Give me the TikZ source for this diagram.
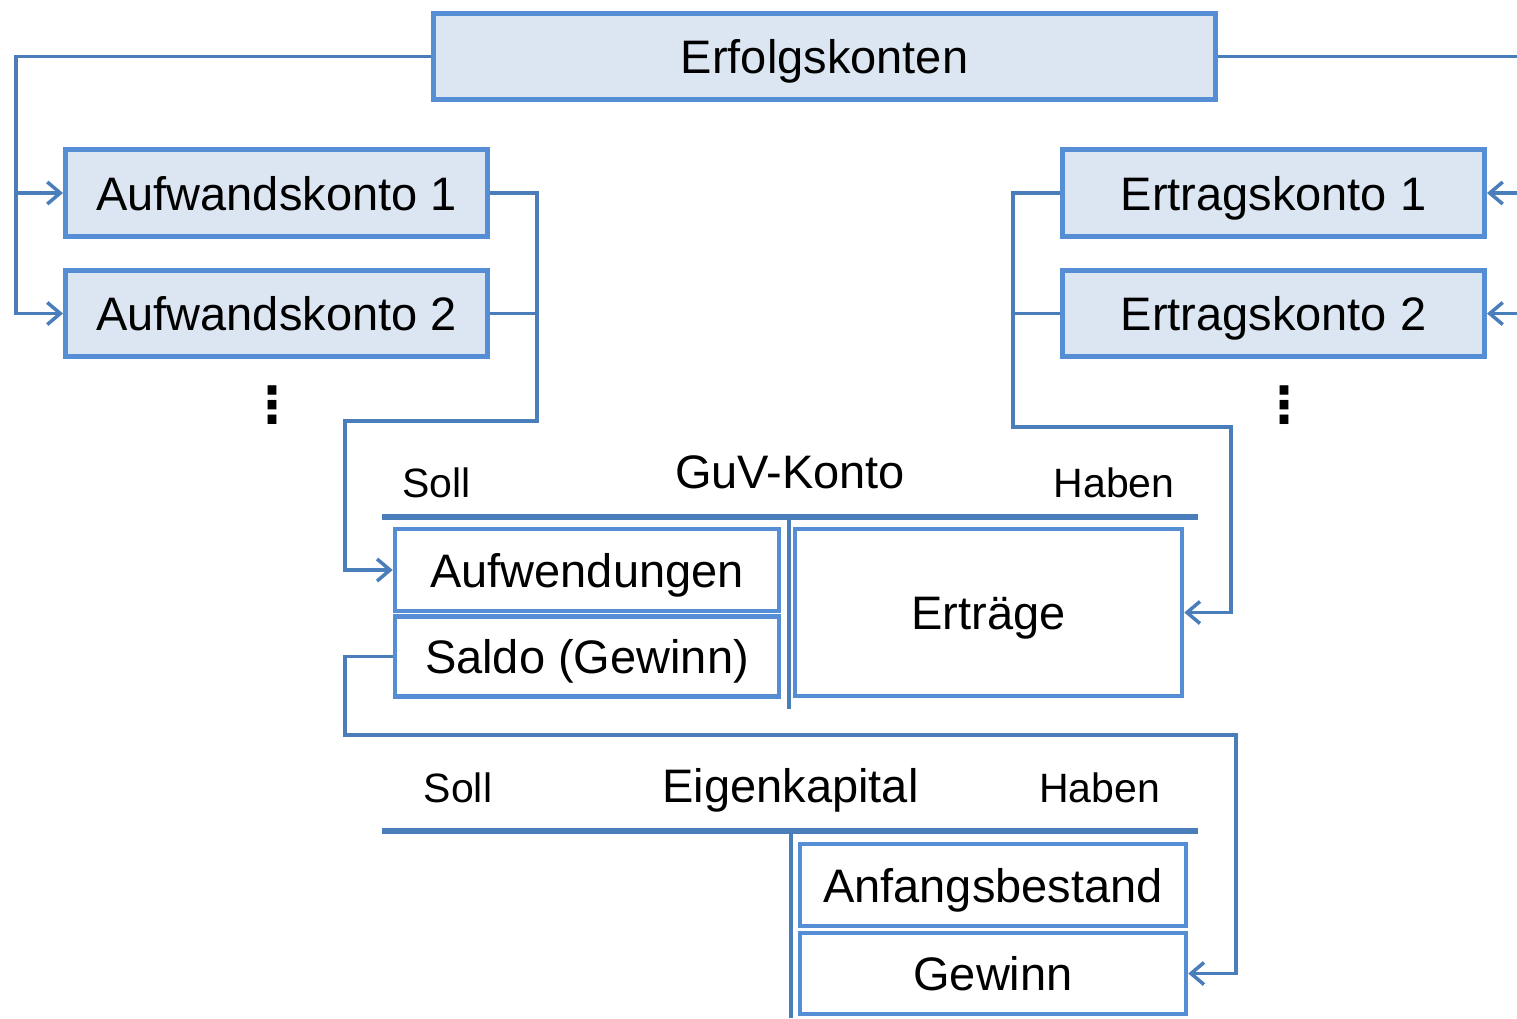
\documentclass[tikz,border=0pt]{standalone}
\usepackage{fontspec}
\setmainfont{Liberation Sans}
\newfontfamily\symfont{DejaVu Sans}
\usetikzlibrary{arrows.meta}
\definecolor{boxedge}{HTML}{558ED5}
\definecolor{boxfill}{HTML}{DCE6F2}
\definecolor{wirecol}{HTML}{4A7EBB}

\begin{document}
\begin{tikzpicture}[x=1pt,y=-1pt,
  acct/.style={draw=boxedge, line width=5pt, fill=boxfill, inner sep=0pt,
    text height=34pt, text depth=0pt, font=\fontsize{47}{56}\selectfont},
  entry/.style={acct, fill=white, line width=4.5pt},
  wire/.style={draw=wirecol, line width=3.5pt},
  feed/.style={wire, -{Straight Barb[length=13pt,width=22pt]}},
  tline/.style={draw=wirecol, line width=5.5pt},
  sidelabel/.style={font=\fontsize{41}{48}\selectfont, anchor=base, inner sep=0pt},
  title/.style={font=\fontsize{47}{56}\selectfont, anchor=base, inner sep=0pt},
  vdots/.style={inner sep=0pt, font=\symfont\bfseries\fontsize{50}{50}\selectfont}]

\useasboundingbox (0,0) rectangle (1517,1018);

% account boxes
\node[acct, minimum width=782pt, minimum height=86pt] (erfolg) at (824.5,56.5) {Erfolgskonten};
\node[acct, minimum width=422pt, minimum height=87pt] (aufw1) at (276.5,193) {Aufwandskonto 1};
\node[acct, minimum width=422pt, minimum height=86pt] (aufw2) at (276.5,313.5) {Aufwandskonto 2};
\node[acct, minimum width=422pt, minimum height=87pt] (ertr1) at (1273.5,193) {Ertragskonto 1};
\node[acct, minimum width=422pt, minimum height=86pt] (ertr2) at (1273.5,313.5) {Ertragskonto 2};

\node[vdots] (dotsl) at (272,405) {⋮};
\node[vdots] (dotsr) at (1284,405) {⋮};

% GuV account
\node[title] (guvtitle) at (790,488) {GuV-Konto};
\node[sidelabel] (guvsoll) at (436.5,497) {Soll};
\node[sidelabel] (guvhaben) at (1114,497) {Haben};
\draw[tline] (382,517) -- (1198,517);
\draw[draw=wirecol, line width=4.5pt] (789,517) -- (789,709);
\node[entry, minimum width=384pt, minimum height=82pt] (aufwendungen) at (587,570) {Aufwendungen};
\node[entry, minimum width=384pt, minimum height=80pt] (saldo) at (587,656.5) {Saldo (Gewinn)};
\node[entry, minimum width=387pt, minimum height=167pt] (ertraege) at (988.5,612.5) {Erträge};

% equity account
\node[title] (ektitle) at (790.5,802) {Eigenkapital};
\node[sidelabel] (eksoll) at (458,802) {Soll};
\node[sidelabel] (ekhaben) at (1099.5,802) {Haben};
\draw[tline] (382,831) -- (1198,831);
\draw[draw=wirecol, line width=4.5pt] (791,834) -- (791,1018);
\node[entry, minimum width=386pt, minimum height=82pt] (anfang) at (993,885) {Anfangsbestand};
\node[entry, minimum width=386pt, minimum height=81pt] (gewinn) at (993,973.5) {Gewinn};

% bus coordinates
\coordinate (lbus) at (16,0);
\coordinate (rbus) at (1517,0);
\coordinate (abus) at (537,0);
\coordinate (alow) at (345,421);
\coordinate (ebus) at (1013,0);
\coordinate (elow) at (1231,427);
\coordinate (slow) at (345,735);
\coordinate (sright) at (1236,735);

% distribution from Erfolgskonten
\draw[feed] (erfolg.west) -| (lbus |- aufw2.west) -- (aufw2.west);
\draw[feed] (lbus |- aufw1.west) -- (aufw1.west);
\draw[wire] (erfolg.east) -- (rbus |- erfolg.east);
\draw[feed] (rbus |- ertr1.east) -- (ertr1.east);
\draw[feed] (rbus |- ertr2.east) -- (ertr2.east);

% expense accounts into GuV
\draw[feed] (aufw1.east) -| (abus |- alow) -- (alow) |- (aufwendungen.west);
\draw[wire] (aufw2.east) -- (abus |- aufw2.east);

% revenue accounts into GuV
\draw[feed] (ertr1.west) -| (ebus |- elow) -- (elow) |- (ertraege.east);
\draw[wire] (ertr2.west) -- (ebus |- ertr2.west);

% balance into equity
\draw[feed] (saldo.west) -| (slow) -- (sright) |- (gewinn.east);
\end{tikzpicture}
\end{document}
